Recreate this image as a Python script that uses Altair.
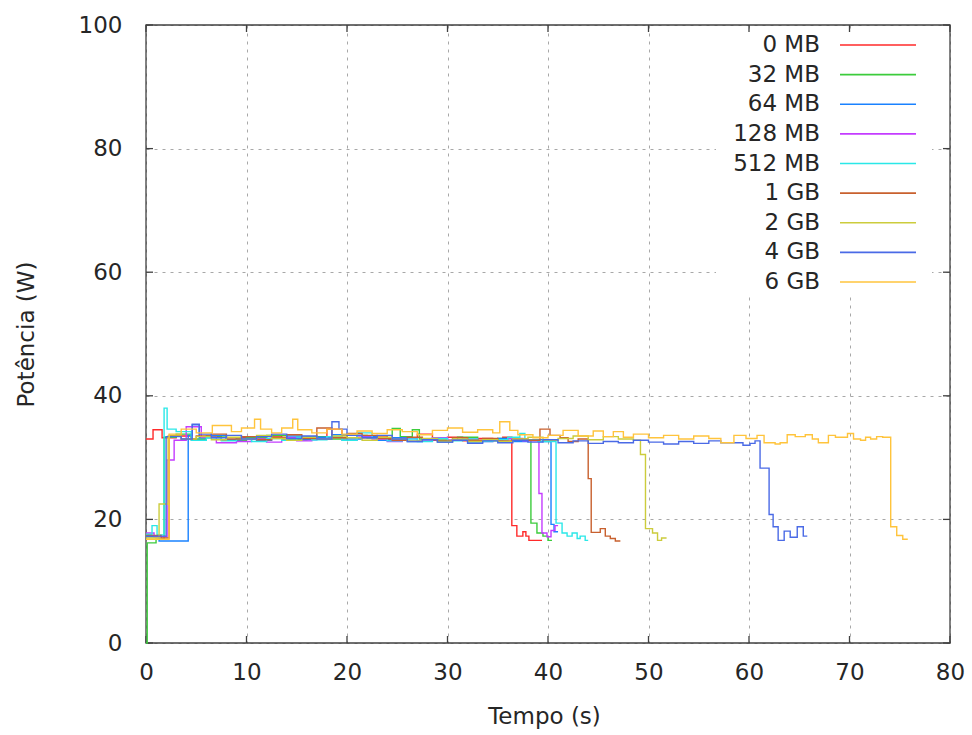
import altair as alt
import pandas as pd

labels = ["0 MB", "32 MB", "64 MB", "128 MB", "512 MB", "1 GB", "2 GB", "4 GB", "6 GB"]
colors = ["#ff2a2a", "#3ccc3c", "#1a82ff", "#c43cff", "#2ae8e8", "#c8602e", "#cccc3c", "#4a6ae6", "#ffc43c"]

t_0mb = [0, 0.7, 1.6, 3, 4.5, 6, 7.5, 9, 10.5, 12, 13.5, 15, 16.5, 18, 19.5, 21, 22.5, 24, 25.5, 27, 28.5, 30, 31.5, 33, 34.5, 35.5, 36.4, 36.9, 37.5, 37.8, 38.1, 39.4]
w_0mb = [33.0, 34.5, 33.2, 33.5, 32.9, 33.4, 32.8, 33.2, 33.0, 33.5, 33.0, 33.3, 33.0, 34.6, 33.6, 33.2, 33.5, 32.9, 33.2, 33.8, 32.8, 33.3, 32.7, 33.1, 32.8, 33.3, 19.0, 17.3, 18.0, 17.3, 16.6, 16.6]

t_32mb = [0, 0.12, 1.0, 1.8, 3, 4.5, 6, 8, 10, 12, 14, 16, 18, 20, 22, 24.5, 25.3, 26.5, 27.2, 29, 31, 33, 35, 36.5, 38.3, 38.9, 39.5, 40.0, 40.4]
w_32mb = [0, 16.2, 16.8, 33.3, 33.8, 33.0, 33.5, 32.8, 33.2, 33.6, 32.9, 33.4, 33.0, 33.6, 33.2, 34.7, 33.4, 34.5, 33.0, 32.8, 33.3, 32.7, 33.1, 32.8, 19.4, 17.8, 17.3, 16.6, 16.6]

t_64mb = [0, 1.3, 4.2, 4.6, 5.3, 6.5, 8, 9.5, 11, 12.5, 14, 15.5, 17, 18.5, 20, 21.5, 23, 24.5, 26, 27.5, 29, 30.5, 32, 33.5, 35, 36.5, 38, 39.5, 40.3, 40.6, 41.0]
w_64mb = [17.2, 16.5, 33.6, 35.3, 33.2, 33.6, 32.9, 33.4, 32.8, 33.2, 33.5, 32.9, 33.3, 33.7, 33.0, 33.4, 32.8, 33.2, 32.6, 33.0, 32.5, 32.9, 32.5, 32.8, 33.1, 32.6, 32.9, 32.6, 19.2, 18.0, 18.0]

t_128mb = [0, 0.8, 2.1, 2.8, 4, 5.5, 7, 9, 10.5, 12, 13.5, 15, 16.5, 18, 19.5, 21, 22.5, 24, 25.5, 27, 28.5, 30, 31.5, 33, 34.5, 36, 37.5, 39.1, 39.4, 39.9, 40.3, 40.7, 41.0]
w_128mb = [17.8, 17.2, 29.6, 32.8, 35.0, 33.3, 32.4, 32.6, 33.0, 32.5, 33.2, 32.7, 33.0, 33.4, 32.8, 33.5, 33.0, 32.6, 33.1, 32.7, 33.2, 32.8, 33.0, 32.6, 32.9, 33.1, 32.7, 24.2, 17.8, 17.2, 18.2, 19.0, 19.0]

t_512mb = [0, 0.6, 1.1, 1.8, 2.1, 3.0, 4.5, 6, 7.5, 9, 10.5, 12, 13.5, 15, 16.5, 18, 19.5, 21, 22.5, 24, 25.5, 27, 28.5, 30, 31.5, 33, 34.5, 36, 37.2, 37.7, 39, 40.8, 41.4, 41.9, 42.4, 42.9, 43.2, 43.7, 44.0]
w_512mb = [17.6, 19.0, 17.5, 38.0, 34.6, 34.2, 32.8, 33.2, 32.7, 33.0, 32.6, 33.1, 32.8, 33.3, 32.9, 33.4, 32.8, 34.0, 33.2, 32.7, 33.0, 32.6, 33.1, 32.7, 33.0, 32.6, 32.9, 33.3, 33.9, 32.8, 32.6, 19.4, 17.8, 17.3, 17.8, 16.9, 17.3, 16.6, 16.6]

t_1gb = [0, 1.5, 2.3, 3.5, 5, 6.5, 8, 9.5, 11, 12.5, 14, 15.5, 17, 18.5, 20, 21.5, 23, 24.5, 26, 27.5, 29, 30.5, 32, 33.5, 35, 36.5, 38, 39.2, 40.2, 41.2, 42, 43, 44.0, 44.3, 45.2, 45.7, 46.2, 46.7, 47.2]
w_1gb = [17.4, 17.0, 33.6, 33.0, 33.5, 33.8, 33.0, 33.4, 32.9, 33.3, 33.7, 33.1, 34.8, 33.2, 33.9, 33.6, 33.1, 32.8, 33.3, 33.0, 32.7, 33.2, 32.8, 33.1, 32.7, 33.0, 32.8, 34.6, 33.6, 33.2, 32.6, 33.0, 26.6, 17.9, 18.5, 17.3, 16.9, 16.5, 16.5]

t_2gb = [0, 1.3, 2.2, 3.5, 5, 6.5, 8, 9.5, 11, 12.5, 14, 15.5, 17, 18.5, 20, 21.5, 23, 24.5, 26, 27.5, 29, 30.5, 32, 33.5, 35, 36.5, 38, 39.5, 41, 42.5, 44, 45.5, 47, 48.5, 49.2, 49.7, 50.4, 50.9, 51.3, 51.8]
w_2gb = [17.0, 22.5, 33.5, 33.0, 33.4, 32.9, 33.3, 33.0, 33.6, 33.1, 32.8, 33.3, 33.0, 33.5, 33.2, 32.8, 33.3, 33.0, 32.7, 33.1, 32.6, 33.0, 32.6, 32.9, 32.6, 33.0, 33.3, 32.8, 33.1, 33.5, 32.9, 33.4, 33.0, 32.8, 30.5, 18.5, 17.8, 16.6, 17.0, 17.0]

t_4gb = [0, 2.0, 3.5, 4.6, 5.3, 6.5, 8, 9.5, 11, 12.5, 14, 15.5, 17, 18.5, 19.2, 20, 21.5, 23, 24.5, 26, 27.5, 29, 30.5, 32, 33.5, 35, 36.5, 38, 39.5, 41, 42.5, 44, 45.5, 47, 48.5, 50, 51.5, 53, 54.5, 56, 57.2, 59.4, 60.1, 60.6, 61.1, 62.0, 62.4, 62.9, 63.5, 64.1, 64.8, 65.4, 65.8]
w_4gb = [17.3, 33.4, 33.0, 35.4, 33.8, 33.2, 33.6, 33.0, 33.4, 33.8, 33.1, 33.5, 33.0, 35.8, 34.6, 33.6, 33.2, 33.6, 33.0, 32.6, 32.9, 32.5, 32.8, 32.3, 32.7, 32.4, 32.8, 32.5, 32.9, 32.4, 32.7, 32.3, 32.6, 32.4, 32.8, 32.5, 32.2, 32.6, 32.3, 32.7, 32.4, 32.0, 32.3, 32.7, 28.3, 20.8, 18.8, 16.6, 18.1, 17.1, 18.8, 17.3, 17.3]

t_6gb = [0, 2.3, 3.5, 5, 6.6, 8.5, 9.5, 10.8, 11.4, 12.5, 13.5, 14.6, 15.1, 16.5, 18, 19.5, 21, 22.5, 24, 25.5, 27, 28.5, 30, 31.5, 33, 34.5, 35.2, 36.2, 37, 38.5, 40, 41.5, 43, 44.5, 45.5, 46.5, 47.5, 48.5, 50, 51.5, 53, 54.5, 56, 57.2, 58.5, 59.7, 60.8, 61.5, 62.6, 63.1, 63.8, 64.6, 65.6, 66.3, 66.9, 67.9, 68.6, 69.8, 70.4, 71.1, 71.6, 72.1, 72.7, 73.3, 74.1, 74.7, 75.3, 75.8]
w_6gb = [16.8, 33.8, 34.6, 34.0, 35.2, 34.2, 34.8, 36.2, 34.6, 34.0, 34.8, 36.2, 34.5, 34.0, 34.6, 33.8, 34.3, 33.9, 34.5, 34.2, 33.7, 34.4, 34.8, 34.1, 34.5, 34.0, 35.8, 34.4, 33.7, 33.2, 33.6, 34.4, 33.5, 34.3, 33.4, 34.2, 33.3, 33.8, 33.2, 33.6, 33.0, 33.5, 33.1, 32.4, 33.6, 33.1, 33.6, 32.4, 32.2, 32.4, 33.7, 33.4, 33.7, 33.0, 32.4, 33.6, 33.3, 33.9, 33.0, 32.8, 33.3, 33.0, 33.4, 33.3, 18.8, 17.4, 16.8, 16.8]

x_ticks = [0, 10, 20, 30, 40, 50, 60, 70, 80]
y_ticks = [0, 20, 40, 60, 80, 100]

series_t = [t_0mb, t_32mb, t_64mb, t_128mb, t_512mb, t_1gb, t_2gb, t_4gb, t_6gb]
series_w = [w_0mb, w_32mb, w_64mb, w_128mb, w_512mb, w_1gb, w_2gb, w_4gb, w_6gb]

rows = []
for k, (lab, ts, ws) in enumerate(zip(labels, series_t, series_w)):
    for i, (t, w) in enumerate(zip(ts, ws)):
        rows.append({"series": lab, "k": k, "t": t, "w": w, "i": i})
df = pd.DataFrame(rows)

W, H = 804, 618
FONT = "DejaVu Sans"
FS = 23
AX = "#404040"
TXT = "#262626"

xdom = alt.Scale(domain=[0, 80], nice=False, zero=False)
ydom = alt.Scale(domain=[0, 100], nice=False, zero=False)
cscale = alt.Scale(domain=labels, range=colors)

one = pd.DataFrame({"a": [0]})

box = alt.Chart(one).mark_rect(fill="white").encode(
    x=alt.value(570), x2=alt.value(786), y=alt.value(8), y2=alt.value(268))

frame = alt.Chart(one).mark_rect(fillOpacity=0, stroke=AX, strokeWidth=1.3).encode(
    x=alt.value(0), x2=alt.value(W), y=alt.value(0), y2=alt.value(H))

xt = pd.DataFrame({"v": x_ticks})
yt = pd.DataFrame({"v": y_ticks})
tick_b = alt.Chart(xt).mark_rule(color=AX, strokeWidth=1.3).encode(
    x=alt.X("v:Q", scale=xdom, axis=None), y=alt.value(H), y2=alt.value(H - 7))
tick_t = alt.Chart(xt).mark_rule(color=AX, strokeWidth=1.3).encode(
    x=alt.X("v:Q", scale=xdom, axis=None), y=alt.value(0), y2=alt.value(7))
tick_l = alt.Chart(yt).mark_rule(color=AX, strokeWidth=1.3).encode(
    y=alt.Y("v:Q", scale=ydom, axis=None), x=alt.value(0), x2=alt.value(7))
tick_r = alt.Chart(yt).mark_rule(color=AX, strokeWidth=1.3).encode(
    y=alt.Y("v:Q", scale=ydom, axis=None), x=alt.value(W), x2=alt.value(W - 7))

lines = alt.Chart(df).mark_line(interpolate="step-after", strokeWidth=1.4).encode(
    x=alt.X("t:Q", scale=xdom, title="Tempo (s)",
            axis=alt.Axis(values=x_ticks, grid=True, gridColor="#a8a8a8", gridDash=[3, 5],
                          gridWidth=1, domain=False, ticks=False, labelFlush=False,
                          labelFont=FONT, labelFontSize=FS, labelColor=TXT, labelPadding=18,
                          labelOverlap=False,
                          titleFont=FONT, titleFontSize=FS, titleFontWeight="normal",
                          titleColor=TXT, titleX=398, titleY=80, titleBaseline="alphabetic")),
    y=alt.Y("w:Q", scale=ydom, title="Potência (W)",
            axis=alt.Axis(values=y_ticks, grid=True, gridColor="#a8a8a8", gridDash=[3, 5],
                          gridWidth=1, domain=False, ticks=False,
                          labelFont=FONT, labelFontSize=FS, labelColor=TXT, labelPadding=24,
                          titleFont=FONT, titleFontSize=FS, titleFontWeight="normal",
                          titleColor=TXT, titleX=-113, titleY=309, titleAngle=-90,
                          titleAlign="center", titleBaseline="alphabetic")),
    color=alt.Color("series:N", scale=cscale, legend=None),
    order=alt.Order("i:Q"),
)

leg = pd.DataFrame({"series": labels, "row": list(range(len(labels)))})
lscale = alt.Scale(domain=[0, 8], range=[20, 257])
leg_text = alt.Chart(leg).mark_text(align="right", baseline="middle", font=FONT, fontSize=FS,
                                    color=TXT, dy=0).encode(
    x=alt.value(674), y=alt.Y("row:Q", scale=lscale, axis=None), text="series:N")
leg_line = alt.Chart(leg).mark_rule(strokeWidth=1.6).encode(
    x=alt.value(694), x2=alt.value(770), y=alt.Y("row:Q", scale=lscale, axis=None),
    color=alt.Color("series:N", scale=cscale, legend=None))

chart = alt.layer(box, frame, tick_b, tick_t, tick_l, tick_r, lines, leg_text, leg_line).resolve_scale(
    y="independent"
).resolve_axis(
    x="independent", y="independent"
).properties(
    width=W, height=H, autosize="none",
    padding={"left": 146, "top": 25, "right": 22, "bottom": 92},
    background="white",
).configure_view(strokeWidth=0)

chart.save("out.html", embed_options={"renderer": "svg", "actions": False})
